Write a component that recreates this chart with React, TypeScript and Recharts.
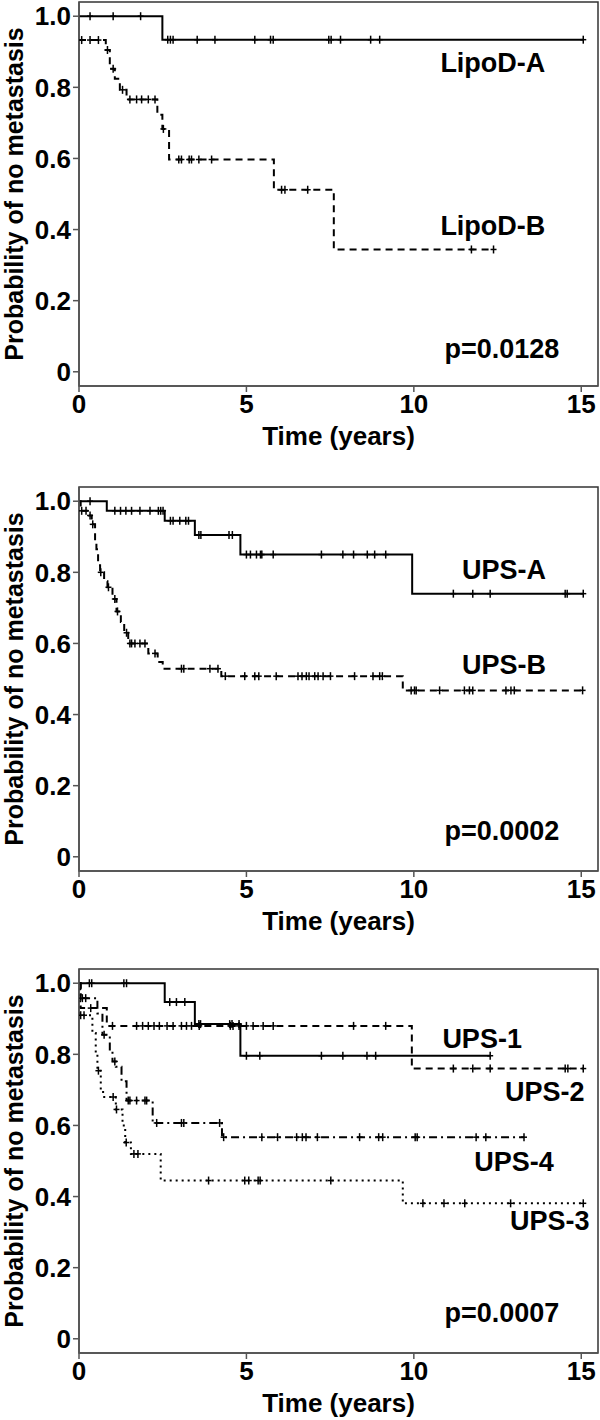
import React from 'react';
import {
  ComposedChart,
  Line,
  Scatter,
  XAxis,
  YAxis,
  ReferenceArea,
  ReferenceDot,
} from 'recharts';

// Kaplan-Meier curves: step times, survival after each step, censoring times
const lipoATimes = [0, 2.49];
const lipoASurv = [1.0, 0.934];
const lipoACensor = [0.33, 1.02, 1.84, 2.65, 2.73, 2.81, 3.53, 4.06, 5.25, 5.72, 5.8, 7.46, 7.53, 7.81, 8.71, 8.98, 15.06];

const lipoBTimes = [0, 0.8, 0.92, 1.07, 1.22, 1.42, 2.34, 2.49, 2.69, 5.82, 7.61];
const lipoBSurv = [0.933, 0.905, 0.852, 0.824, 0.793, 0.766, 0.723, 0.683, 0.597, 0.512, 0.344];
const lipoBCensor = [0.08, 0.33, 0.58, 0.85, 1.02, 1.3, 1.52, 1.72, 1.87, 2.07, 2.27, 2.52, 2.98, 3.06, 3.29, 3.36, 3.58, 3.96, 6.05, 6.15, 6.83, 11.72, 12.38];

const upsATimes = [0, 0.83, 2.56, 3.46, 4.82, 9.95];
const upsASurv = [1.0, 0.973, 0.945, 0.905, 0.85, 0.74];
const upsACensor = [0.33, 1.07, 1.24, 1.4, 1.57, 1.82, 2.12, 2.37, 2.44, 2.51, 2.73, 2.81, 3.01, 3.19, 3.27, 3.58, 3.64, 4.48, 4.58, 5.0, 5.12, 5.3, 5.42, 5.46, 5.8, 7.24, 7.88, 8.2, 8.61, 8.83, 9.16, 11.18, 11.76, 12.28, 14.52, 14.58, 15.06];

const upsBTimes = [0, 0.05, 0.3, 0.38, 0.48, 0.52, 0.57, 0.63, 0.75, 0.85, 1.0, 1.12, 1.25, 1.35, 1.47, 2.07, 2.35, 2.5, 4.25, 9.67];
const upsBSurv = [1.0, 0.973, 0.96, 0.935, 0.89, 0.865, 0.82, 0.8, 0.775, 0.758, 0.725, 0.69, 0.66, 0.63, 0.6, 0.572, 0.548, 0.529, 0.508, 0.468];
const upsBCensor = [0.08, 0.21, 0.33, 0.41, 0.65, 0.88, 1.07, 1.15, 1.42, 1.52, 1.57, 1.67, 1.82, 1.97, 2.27, 3.06, 3.13, 3.91, 4.15, 4.37, 4.95, 5.25, 5.37, 5.89, 6.54, 6.66, 6.79, 6.87, 7.04, 7.14, 7.29, 7.51, 8.23, 8.78, 8.98, 9.06, 9.92, 10.02, 10.07, 10.77, 11.51, 11.66, 11.76, 12.75, 12.9, 13.0, 15.04];

const ups1Times = [0, 2.56, 3.46, 4.82];
const ups1Surv = [1.0, 0.947, 0.885, 0.796];
const ups1Censor = [0.31, 0.38, 1.34, 1.42, 2.71, 2.91, 3.16, 3.58, 3.63, 4.5, 4.57, 4.78, 5.0, 5.4, 7.24, 7.88, 8.6, 8.86, 12.28];

const ups2Times = [0, 0.05, 0.83, 9.94];
const ups2Surv = [1.0, 0.93, 0.88, 0.76];
const ups2Censor = [0.35, 1.0, 1.72, 1.9, 2.07, 2.24, 2.4, 2.63, 2.81, 3.06, 3.21, 3.36, 3.59, 4.52, 4.6, 4.78, 5.0, 5.2, 5.5, 5.8, 8.2, 9.16, 11.18, 11.76, 12.28, 14.52, 14.6, 15.06];

const ups3Times = [0, 0.03, 0.4, 0.5, 0.55, 0.65, 0.72, 1.1, 1.3, 1.38, 1.55, 2.44, 9.67];
const ups3Surv = [1.0, 0.91, 0.86, 0.8, 0.754, 0.7, 0.68, 0.645, 0.6, 0.552, 0.52, 0.445, 0.381];
const ups3Censor = [0.05, 0.15, 0.58, 1.02, 1.12, 1.41, 1.64, 1.76, 3.87, 4.95, 5.07, 5.35, 5.41, 7.52, 10.27, 10.9, 11.52, 12.89, 15.06];

const ups4Times = [0, 0.05, 0.55, 0.7, 0.92, 1.0, 1.1, 1.27, 1.42, 2.2, 4.27];
const ups4Surv = [1.0, 0.958, 0.915, 0.855, 0.81, 0.78, 0.765, 0.724, 0.67, 0.607, 0.567];
const ups4Censor = [0.1, 0.2, 0.75, 1.07, 1.47, 1.52, 1.72, 1.97, 2.02, 2.32, 3.06, 3.13, 4.2, 4.32, 5.46, 5.93, 6.5, 6.67, 6.78, 7.12, 8.38, 8.95, 9.07, 10.04, 10.1, 11.86, 12.15, 13.29];

const xTicks = [0, 5, 10, 15];
const yTicks = [0, 0.2, 0.4, 0.6, 0.8, 1.0];

const FONT = '"Liberation Sans", Arial, sans-serif';

const stepAt = (times: number[], surv: number[], t: number) => {
  let v = surv[0];
  for (let i = 0; i < times.length; i++) if (times[i] <= t) v = surv[i];
  return v;
};

const curve = (times: number[], surv: number[], censor: number[]) => {
  const end = censor[censor.length - 1];
  const pts = times.map((t, i) => ({ t, s: surv[i] }));
  pts.push({ t: end, s: surv[surv.length - 1] });
  return pts;
};

const marks = (times: number[], surv: number[], censor: number[]) =>
  censor.map((t) => ({ t, s: stepAt(times, surv, t) }));

const Plus = (props: any) => {
  const { cx, cy } = props;
  if (cx == null || cy == null) return null;
  return (
    <g>
      <line x1={cx} x2={cx} y1={cy - 4} y2={cy + 4} stroke="#000" strokeWidth={1.5} />
      <line x1={cx - 3} x2={cx + 3} y1={cy} y2={cy} stroke="#000" strokeWidth={1.5} />
    </g>
  );
};

interface Series {
  times: number[];
  surv: number[];
  censor: number[];
  dash?: string;
}

interface Note {
  x: number;
  y: number;
  text: string;
}

const KMPanel: React.FC<{ series: Series[]; notes: Note[] }> = ({ series, notes }) => (
  <ComposedChart width={600} height={454} margin={{ top: 2, right: 2, left: 0, bottom: 0 }}>
    <XAxis
      type="number"
      dataKey="t"
      domain={[0, 15.5]}
      ticks={xTicks}
      allowDataOverflow
      height={68}
      tickSize={6}
      tickMargin={3}
      stroke="#555"
      strokeWidth={1.5}
      tick={{ fill: '#000', fontSize: 26, fontWeight: 'bold', fontFamily: FONT }}
      label={{
        value: 'Time (years)',
        position: 'insideBottom',
        offset: 9,
        fill: '#000',
        fontSize: 26,
        fontWeight: 'bold',
        fontFamily: FONT,
      }}
    />
    <YAxis
      type="number"
      dataKey="s"
      domain={[-0.04, 1.04]}
      ticks={yTicks}
      allowDataOverflow
      width={79}
      tickSize={6}
      tickMargin={2}
      stroke="#555"
      strokeWidth={1.5}
      tickFormatter={(v: number) => (v === 0 ? '0' : v.toFixed(1))}
      tick={{ fill: '#000', fontSize: 26, fontWeight: 'bold', fontFamily: FONT }}
      label={{
        value: 'Probability of no metastasis',
        angle: -90,
        position: 'insideLeft',
        offset: 14,
        fill: '#000',
        fontSize: 25,
        fontWeight: 'bold',
        fontFamily: FONT,
        style: { textAnchor: 'middle' },
      }}
    />
    <ReferenceArea x1={0} x2={15.5} y1={-0.04} y2={1.04} fill="none" stroke="#333" strokeWidth={1.5} ifOverflow="visible" />
    {series.map((s, i) => (
      <Line
        key={'l' + i}
        data={curve(s.times, s.surv, s.censor)}
        dataKey="s"
        type="stepAfter"
        stroke="#000"
        strokeWidth={2}
        strokeDasharray={s.dash}
        dot={false}
        activeDot={false}
        isAnimationActive={false}
      />
    ))}
    {series.map((s, i) => (
      <Scatter
        key={'c' + i}
        data={marks(s.times, s.surv, s.censor)}
        dataKey="s"
        shape={<Plus />}
        isAnimationActive={false}
      />
    ))}
    {notes.map((n) => (
      <ReferenceDot
        key={n.text}
        x={n.x}
        y={n.y}
        r={0}
        fill="none"
        stroke="none"
        label={{
          value: n.text,
          position: 'center',
          fill: '#000',
          fontSize: 27,
          fontWeight: 'bold',
          fontFamily: FONT,
        }}
      />
    ))}
  </ComposedChart>
);

export default function App() {
  return (
    <div
      style={{
        position: 'absolute',
        top: 0,
        left: 0,
        width: 600,
        height: 1420,
        background: '#fff',
        overflow: 'hidden',
      }}
    >
      <div style={{ position: 'absolute', top: 0, left: 0 }}>
        <KMPanel
          series={[
            { times: lipoATimes, surv: lipoASurv, censor: lipoACensor },
            { times: lipoBTimes, surv: lipoBSurv, censor: lipoBCensor, dash: '7 5' },
          ]}
          notes={[
            { x: 12.36, y: 0.87, text: 'LipoD-A' },
            { x: 12.36, y: 0.411, text: 'LipoD-B' },
            { x: 12.63, y: 0.065, text: 'p=0.0128' },
          ]}
        />
      </div>
      <div style={{ position: 'absolute', top: 485, left: 0 }}>
        <KMPanel
          series={[
            { times: upsATimes, surv: upsASurv, censor: upsACensor },
            { times: upsBTimes, surv: upsBSurv, censor: upsBCensor, dash: '7 5' },
          ]}
          notes={[
            { x: 12.69, y: 0.807, text: 'UPS-A' },
            { x: 12.69, y: 0.54, text: 'UPS-B' },
            { x: 12.63, y: 0.073, text: 'p=0.0002' },
          ]}
        />
      </div>
      <div style={{ position: 'absolute', top: 967, left: 0 }}>
        <KMPanel
          series={[
            { times: ups1Times, surv: ups1Surv, censor: ups1Censor },
            { times: ups2Times, surv: ups2Surv, censor: ups2Censor, dash: '7 5' },
            { times: ups3Times, surv: ups3Surv, censor: ups3Censor, dash: '2 4' },
            { times: ups4Times, surv: ups4Surv, censor: ups4Censor, dash: '8 4 2 4' },
          ]}
          notes={[
            { x: 12.04, y: 0.846, text: 'UPS-1' },
            { x: 13.91, y: 0.695, text: 'UPS-2' },
            { x: 12.99, y: 0.498, text: 'UPS-4' },
            { x: 14.06, y: 0.334, text: 'UPS-3' },
            { x: 12.63, y: 0.073, text: 'p=0.0007' },
          ]}
        />
      </div>
    </div>
  );
}
